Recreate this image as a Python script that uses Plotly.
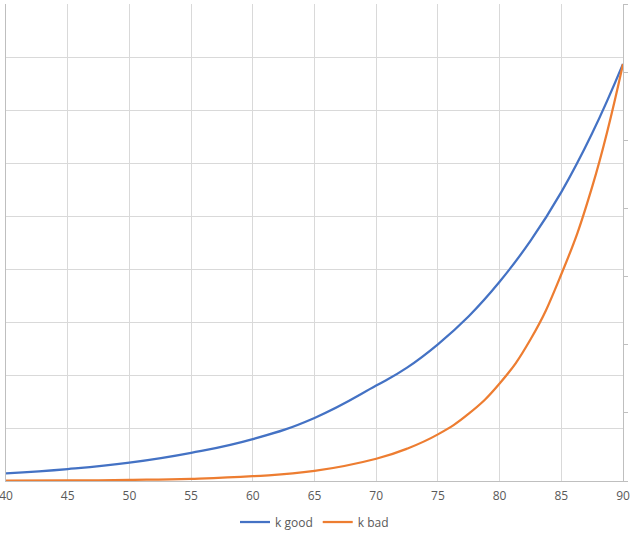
import plotly.graph_objects as go

# Data (y in units of primary gridlines)
x_good = [40, 45, 50, 55, 60, 65, 70, 72.5, 75, 77.5, 80, 82.5, 85, 87.5, 90]
k_good = [0.145, 0.225, 0.345, 0.53, 0.79, 1.19, 1.8, 2.14, 2.58, 3.11, 3.76, 4.53, 5.45, 6.56, 7.87]

x_bad = [40, 45, 50, 55, 60, 65, 70, 72.5, 75, 77.5, 80, 82.5, 85, 87.5, 90]
k_bad = [0.005, 0.01, 0.02, 0.04, 0.09, 0.19, 0.42, 0.61, 0.88, 1.27, 1.84, 2.67, 3.90, 5.55, 7.87]

x_ticks = [40, 45, 50, 55, 60, 65, 70, 75, 80, 85, 90]

fig = go.Figure()
fig.add_trace(go.Scatter(x=x_good, y=k_good, mode="lines", name="k good",
                         line=dict(color="#4472C4", width=2.25, shape="spline", smoothing=1.3)))
fig.add_trace(go.Scatter(x=x_bad, y=k_bad, mode="lines", name="k bad",
                         line=dict(color="#ED7D31", width=2.25, shape="spline", smoothing=1.3)))
# empty trace to anchor the secondary axis
fig.add_trace(go.Scatter(x=[None], y=[None], yaxis="y2", showlegend=False, hoverinfo="skip"))

fig.update_layout(
    width=632, height=534,
    margin=dict(l=6, r=9, t=4, b=53, autoexpand=False),
    paper_bgcolor="white", plot_bgcolor="white",
    font=dict(family="Open Sans, Liberation Sans, sans-serif", size=12, color="#595959"),
    showlegend=True,
    legend=dict(orientation="h", x=0.5, xanchor="center", y=-0.086, yanchor="middle",
                font=dict(size=12, color="#595959"), itemwidth=30, tracegroupgap=0),
    xaxis=dict(range=[40, 90], tickmode="array", tickvals=x_ticks, ticktext=[str(t) for t in x_ticks],
               showgrid=True, gridcolor="#D9D9D9", gridwidth=1,
               showline=True, linecolor="#BFBFBF", linewidth=1, zeroline=False,
               ticks="", tickfont=dict(size=12, color="#595959"),
               automargin=False, ticklabeloverflow="allow", ticklabelstandoff=4),
    yaxis=dict(range=[0, 9], dtick=1, showgrid=True, gridcolor="#D9D9D9", gridwidth=1,
               showline=True, linecolor="#BFBFBF", linewidth=1, zeroline=False,
               showticklabels=False, ticks="", automargin=False),
    yaxis2=dict(range=[0, 7], dtick=1, overlaying="y", side="right", showgrid=False,
                showline=True, linecolor="#BFBFBF", linewidth=1, zeroline=False,
                showticklabels=False, ticks="outside", ticklen=4, tickcolor="#BFBFBF",
                automargin=False),
)

fig.write_html("out.html", config={"displayModeBar": False},
               post_script="document.body.style.margin='0';document.body.style.overflow='hidden';")
